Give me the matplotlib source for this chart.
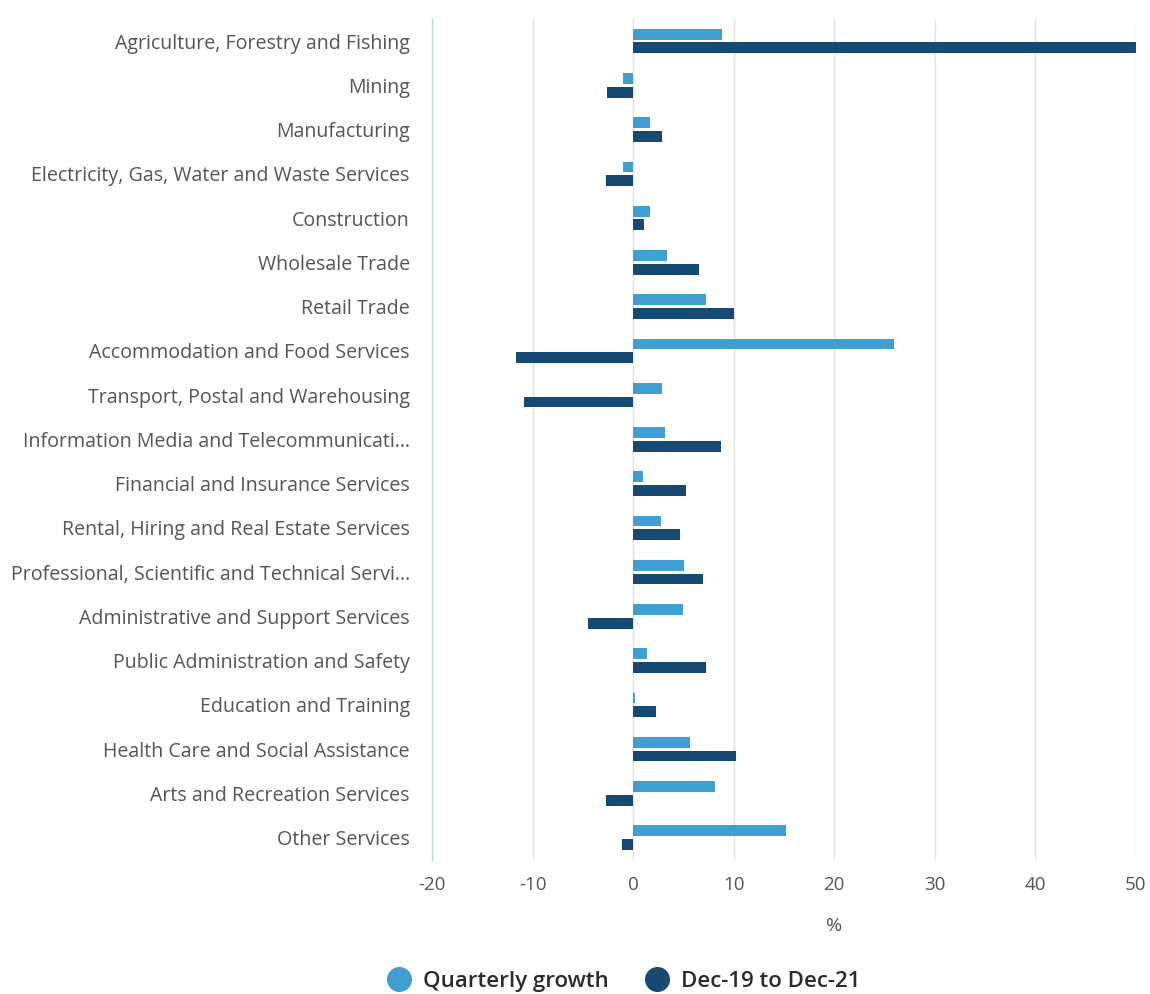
import numpy as np
import matplotlib.pyplot as plt
from matplotlib.lines import Line2D

plt.rcParams['font.family'] = ['Open Sans', 'DejaVu Sans']
plt.rcParams['axes.unicode_minus'] = False

industries = ['Agriculture, Forestry and Fishing', 'Mining', 'Manufacturing',
              'Electricity, Gas, Water and Waste Services', 'Construction',
              'Wholesale Trade', 'Retail Trade', 'Accommodation and Food Services',
              'Transport, Postal and Warehousing',
              'Information Media and Telecommunicati...',
              'Financial and Insurance Services',
              'Rental, Hiring and Real Estate Services',
              'Professional, Scientific and Technical Servi...',
              'Administrative and Support Services',
              'Public Administration and Safety', 'Education and Training',
              'Health Care and Social Assistance', 'Arts and Recreation Services',
              'Other Services']
quarterly = [8.8, -1.0, 1.7, -1.0, 1.7, 3.4, 7.2, 25.9, 2.9, 3.2,
             1.0, 2.8, 5.1, 5.0, 1.4, 0.2, 5.7, 8.1, 15.2]
dec19_dec21 = [50.0, -2.6, 2.9, -2.7, 1.1, 6.6, 10.0, -11.7, -10.9, 8.7,
               5.3, 4.7, 6.9, -4.5, 7.2, 2.3, 10.2, -2.7, -1.1]

c_light = '#3f9fd3'
c_dark = '#164a72'
txt = '#555555'

fig = plt.figure(figsize=(11.5, 9.94), dpi=100)
ax = fig.add_axes([0.3757, 0.135, 0.612, 0.846])

y = np.arange(len(industries))
h = 0.245
ax.barh(y - 0.155, quarterly, height=h, color=c_light, zorder=3)
ax.barh(y + 0.155, dec19_dec21, height=h, color=c_dark, zorder=3)

ax.set_ylim(len(industries) - 0.5, -0.5)
ax.set_xlim(-20, 50)
ax.set_xticks(range(-20, 51, 10))
ax.set_yticks(y)
ax.set_yticklabels(industries)
ax.grid(axis='x', color='#e3e3e3', linewidth=1, zorder=0)

for s in ['top', 'right', 'bottom']:
    ax.spines[s].set_visible(False)
ax.spines['left'].set_color('#b9d6ee')
ax.spines['left'].set_linewidth(1)

ax.tick_params(axis='y', length=0, pad=16, labelsize=14.1, labelcolor=txt)
ax.tick_params(axis='x', length=0, pad=12, labelsize=13.5, labelcolor=txt)
# the % label sits under the 20 tick in the original
ax.set_xlabel('%', fontsize=14, color=txt, labelpad=16, x=40 / 70)

handles = [Line2D([], [], marker='o', linestyle='', markersize=17,
                  color=c_light, label='Quarterly growth'),
           Line2D([], [], marker='o', linestyle='', markersize=17,
                  color=c_dark, label='Dec-19 to Dec-21')]
fig.legend(handles=handles, loc='center', bbox_to_anchor=(0.538, 0.013),
           ncol=2, frameon=False, handletextpad=0.05, columnspacing=1.2,
           prop={'size': 16, 'weight': 'semibold'}, labelcolor='#2b2b2b')

fig.savefig('out.png', dpi=100)
